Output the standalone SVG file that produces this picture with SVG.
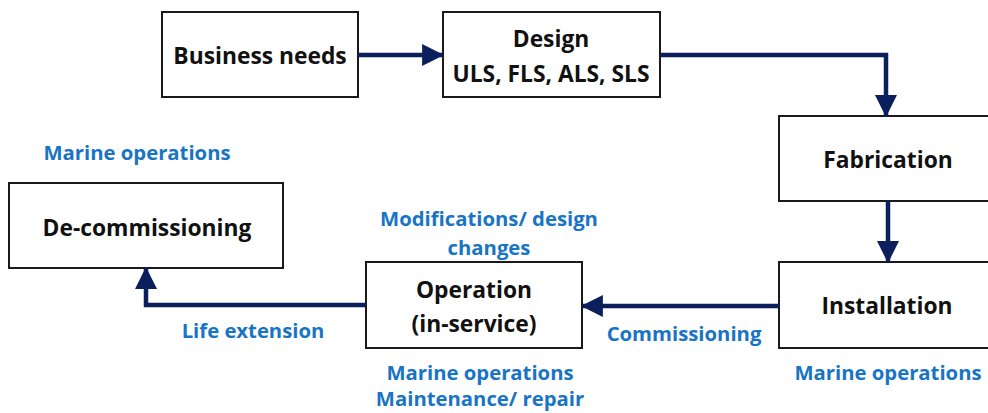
<svg xmlns="http://www.w3.org/2000/svg" width="988" height="413" viewBox="0 0 988 413">
<defs>
<marker id="ah" markerUnits="userSpaceOnUse" markerWidth="22" markerHeight="22" viewBox="0 0 20 20" refX="19" refY="10" orient="auto">
<path d="M0,0 L20,10 L0,20 Z" fill="#0A1F5C"/>
</marker>
</defs>
<style>
.box{fill:#fff;stroke:#1a1a1a;stroke-width:2}
.t{font-family:"Open Sans","Liberation Sans",sans-serif;font-weight:bold;font-size:22.8px;fill:#111;text-anchor:middle;dominant-baseline:central}
.b{font-family:"Open Sans","Liberation Sans",sans-serif;font-weight:bold;font-size:20.3px;fill:#1874C4;text-anchor:middle;dominant-baseline:central}
.c{fill:none;stroke:#0A1F5C;stroke-width:4.5;stroke-linejoin:miter}
</style>
<rect width="988" height="413" fill="#fff"/>
<g id="business-needs"><rect class="box" x="162" y="12" width="196" height="85"/><text class="t" x="260" y="55">Business needs</text></g>
<g id="design"><rect class="box" x="443" y="12" width="217" height="85"/><text class="t" x="551" y="38">Design</text><text class="t" x="551" y="73">ULS, FLS, ALS, SLS</text></g>
<g id="fabrication"><rect class="box" x="779" y="116" width="220" height="85"/><text class="t" x="888" y="159">Fabrication</text></g>
<g id="installation"><rect class="box" x="779" y="262" width="220" height="86"/><text class="t" x="887" y="305">Installation</text><text class="b" x="888" y="372">Marine operations</text></g>
<g id="operation"><rect class="box" x="366" y="262" width="216" height="86"/><text class="t" x="474" y="289">Operation</text><text class="t" x="474" y="323">(in-service)</text><text class="b" x="489" y="218">Modifications/ design</text><text class="b" x="489" y="247">changes</text><text class="b" x="480" y="372">Marine operations</text><text class="b" x="480" y="398">Maintenance/ repair</text></g>
<g id="decommissioning"><rect class="box" x="9" y="183" width="274" height="85"/><text class="t" x="147" y="227">De-commissioning</text><text class="b" x="137" y="152">Marine operations</text></g>
<g id="connectors">
<path class="c" d="M358,55 H443" marker-end="url(#ah)"/>
<path class="c" d="M660,55 H886 V116" marker-end="url(#ah)"/>
<path class="c" d="M888,201 V262" marker-end="url(#ah)"/>
<path class="c" d="M779,306 H582" marker-end="url(#ah)"/>
<text class="b" x="684" y="333">Commissioning</text>
<path class="c" d="M366,305 H146 V268" marker-end="url(#ah)"/>
<text class="b" x="253" y="330">Life extension</text>
</g>
</svg>
